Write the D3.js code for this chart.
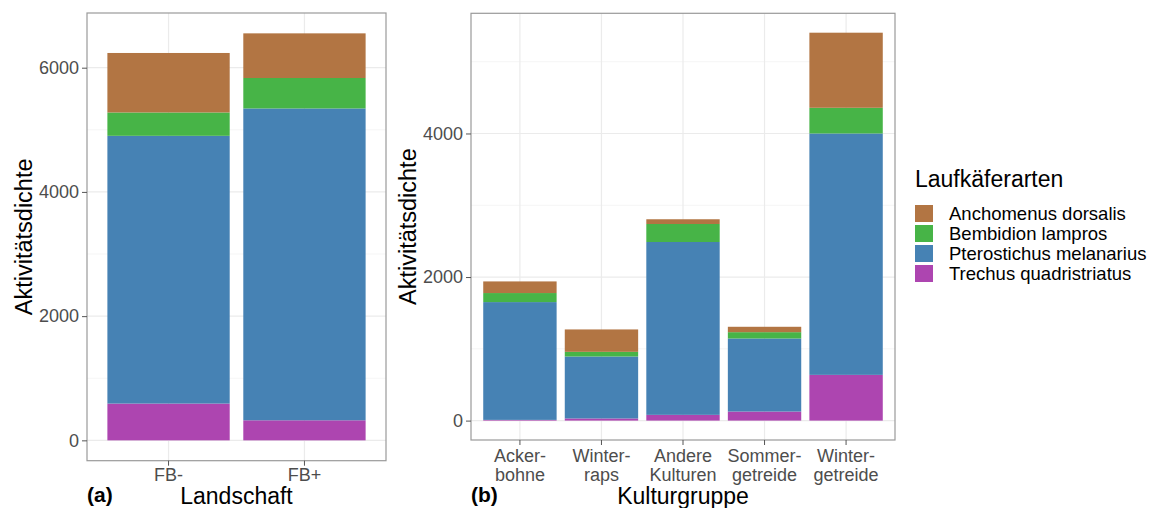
<!DOCTYPE html>
<html>
<head>
<meta charset="utf-8">
<script src="https://cdn.jsdelivr.net/npm/d3@7"></script>
<style>
  body { margin: 0; background: #fff; }
  svg { display: block; font-family: "Liberation Sans", Arial, sans-serif; }
</style>
</head>
<body>
<div class="chart"></div>
<script>
// species, legend order (top of the stack first)
const species = ['Anchomenus dorsalis', 'Bembidion lampros', 'Pterostichus melanarius', 'Trechus quadristriatus'];
const speciesColors = ['#B27543', '#47B447', '#4682B4', '#AD45B0'];

// panel (a) Landschaft
const landschaft = ['FB-', 'FB+'];
const aAnchomenus = [958, 719];
const aBembidion = [376, 490];
const aPterostichus = [4311, 5021];
const aTrechus = [592, 323];

// panel (b) Kulturgruppe
const kultur = ['Acker-\nbohne', 'Winter-\nraps', 'Andere\nKulturen', 'Sommer-\ngetreide', 'Winter-\ngetreide'];
const bAnchomenus = [162, 312, 66, 75, 1046];
const bBembidion = [126, 65, 251, 88, 358];
const bPterostichus = [1641, 863, 2408, 1018, 3363];
const bTrechus = [10, 30, 80, 126, 637];

const yTicksA = [0, 2000, 4000, 6000];
const yTicksB = [0, 2000, 4000];

const W = 1158, H = 508;
const svg = d3.select('.chart').append('svg')
    .attr('width', W)
    .attr('height', H);

const color = d3.scaleOrdinal().domain(species).range(speciesColors);

function buildRows(cats, anch, bemb, pter, trec) {
    return cats.map((c, i) => ({
        cat: c,
        'Anchomenus dorsalis': anch[i],
        'Bembidion lampros': bemb[i],
        'Pterostichus melanarius': pter[i],
        'Trechus quadristriatus': trec[i]
    }));
}

function drawPanel(opt) {
    const { rows, cats, box, yTicks, tag, xTitle, yTitleX, tickLines } = opt;
    const g = svg.append('g');

    // bottom of the stack is the last species
    const stack = d3.stack().keys(species.slice().reverse());
    const series = stack(rows);
    const maxVal = d3.max(series[series.length - 1], d => d[1]);

    const x = d3.scaleBand().domain(cats)
        .range([box.x0, box.x1])
        .paddingInner(0.1)
        .paddingOuter(0.15);
    const y = d3.scaleLinear()
        .domain([-0.05 * maxVal, maxVal * 1.05])
        .range([box.y1, box.y0]);

    // grid
    const minor = d3.range(1000, maxVal * 1.05, 2000);
    g.selectAll('.minor').data(minor).join('line')
        .attr('x1', box.x0).attr('x2', box.x1)
        .attr('y1', d => y(d)).attr('y2', d => y(d))
        .attr('stroke', '#F3F3F3').attr('stroke-width', 0.8);
    g.selectAll('.majory').data(yTicks).join('line')
        .attr('x1', box.x0).attr('x2', box.x1)
        .attr('y1', d => y(d)).attr('y2', d => y(d))
        .attr('stroke', '#EBEBEB').attr('stroke-width', 1.2);
    g.selectAll('.majorx').data(cats).join('line')
        .attr('x1', d => x(d) + x.bandwidth() / 2).attr('x2', d => x(d) + x.bandwidth() / 2)
        .attr('y1', box.y0).attr('y2', box.y1)
        .attr('stroke', '#EBEBEB').attr('stroke-width', 1.2);

    // bars
    g.selectAll('.layer').data(series).join('g')
        .attr('fill', d => color(d.key))
        .selectAll('rect').data(d => d).join('rect')
        .attr('x', d => x(d.data.cat))
        .attr('width', x.bandwidth())
        .attr('y', d => y(d[1]))
        .attr('height', d => y(d[0]) - y(d[1]));

    // panel border
    g.append('rect')
        .attr('x', box.x0).attr('y', box.y0)
        .attr('width', box.x1 - box.x0).attr('height', box.y1 - box.y0)
        .attr('fill', 'none').attr('stroke', '#9A9A9A').attr('stroke-width', 1.2);

    // axes
    const yAxis = g.append('g')
        .attr('transform', `translate(${box.x0}, 0)`)
        .call(d3.axisLeft(y).tickValues(yTicks).tickSize(5).tickPadding(3).tickFormat(d3.format('d')));
    const xAxis = g.append('g')
        .attr('transform', `translate(0, ${box.y1})`)
        .call(d3.axisBottom(x).tickSize(5).tickPadding(3));
    [yAxis, xAxis].forEach(a => {
        a.select('.domain').remove();
        a.selectAll('.tick line').attr('stroke', '#555');
        a.selectAll('.tick text')
            .attr('fill', '#4D4D4D')
            .style('font-size', '18px')
            .style('font-family', '"Liberation Sans", Arial, sans-serif');
    });

    // multi-line x labels
    xAxis.selectAll('.tick text').each(function(d) {
        const t = d3.select(this);
        const parts = d.split('\n');
        t.text(null).attr('y', null).attr('dy', null);
        parts.forEach((p, i) => {
            t.append('tspan')
                .attr('x', 0)
                .attr('y', tickLines[i])
                .text(p);
        });
    });

    // titles
    g.append('text')
        .attr('transform', `translate(${yTitleX}, ${(box.y0 + box.y1) / 2}) rotate(-90)`)
        .attr('text-anchor', 'middle')
        .attr('dy', '0.35em')
        .style('font-size', '23.5px')
        .text('Aktivitätsdichte');
    g.append('text')
        .attr('x', (box.x0 + box.x1) / 2)
        .attr('y', 504)
        .attr('text-anchor', 'middle')
        .style('font-size', '23px')
        .text(xTitle);
    g.append('text')
        .attr('x', box.x0)
        .attr('y', 502)
        .style('font-size', '21px')
        .style('font-weight', 'bold')
        .text(tag);
}

drawPanel({
    rows: buildRows(landschaft, aAnchomenus, aBembidion, aPterostichus, aTrechus),
    cats: landschaft,
    box: { x0: 87, x1: 386, y0: 13, y1: 460.7 },
    yTicks: yTicksA,
    tag: '(a)',
    xTitle: 'Landschaft',
    yTitleX: 24,
    tickLines: [20]
});

drawPanel({
    rows: buildRows(kultur, bAnchomenus, bBembidion, bPterostichus, bTrechus),
    cats: kultur,
    box: { x0: 471, x1: 895, y0: 13.3, y1: 440 },
    yTicks: yTicksB,
    tag: '(b)',
    xTitle: 'Kulturgruppe',
    yTitleX: 408,
    tickLines: [22, 41]
});

// legend
const legend = svg.append('g').attr('transform', 'translate(915, 0)');
legend.append('text')
    .attr('x', 0).attr('y', 187)
    .style('font-size', '23px')
    .text('Laufkäferarten');
const item = legend.selectAll('.item').data(species).join('g')
    .attr('transform', (d, i) => `translate(0, ${205 + i * 20})`);
item.append('rect')
    .attr('width', 18).attr('height', 17)
    .attr('fill', d => color(d));
item.append('text')
    .attr('x', 34).attr('y', 15)
    .style('font-size', '18.5px')
    .text(d => d);
</script>
</body>
</html>
